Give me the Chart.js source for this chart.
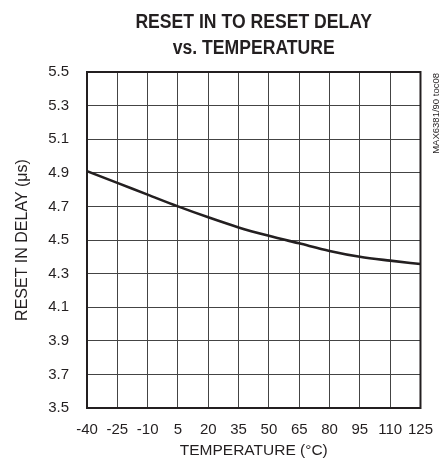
<!DOCTYPE html>
<html>
<head>
<meta charset="utf-8">
<script src="https://cdn.jsdelivr.net/npm/chart.js@4"></script>
<style>
  html, body { margin: 0; padding: 0; background: #fff; }
  #wrap { width: 446px; height: 470px; position: relative; }
</style>
</head>
<body>
<div id="wrap"><canvas id="delayChart"></canvas></div>
<script>
// --- Data ---
var temperatures = [-40, -25, -10, 5, 20, 35, 50, 65, 80, 95, 110, 125];
var resetDelay = [4.91, 4.84, 4.77, 4.70, 4.635, 4.575, 4.525, 4.48, 4.435, 4.40, 4.377, 4.357];
var titleLines = ['RESET IN TO RESET DELAY', 'vs. TEMPERATURE'];
var xTitle = 'TEMPERATURE (°C)';
var yTitle = 'RESET IN DELAY (μs)';
var sideNote = 'MAX6381/90 toc08';

var baseFont = '"Liberation Sans", Arial, sans-serif';
var inkColor = '#231f20';

// draws the two-line title, the frame round the plot and the note on the right
var framePlugin = {
    id: 'frameAndTitle',
    afterDraw: function (chart) {
        var ctx = chart.ctx;
        var area = chart.chartArea;
        var cx = (area.left + area.right) / 2;
        ctx.save();
        ctx.fillStyle = inkColor;
        ctx.textAlign = 'center';
        ctx.textBaseline = 'alphabetic';
        ctx.font = 'bold 20px ' + baseFont;
        // the original title face is a condensed one, squeeze it a bit
        ctx.save();
        ctx.translate(cx, 0);
        ctx.scale(0.88, 1);
        ctx.fillText(titleLines[0], 0, 28);
        ctx.fillText(titleLines[1], 0, 54);
        ctx.restore();

        ctx.strokeStyle = inkColor;
        ctx.lineWidth = 2;
        ctx.strokeRect(area.left, area.top, area.right - area.left, area.bottom - area.top);

        ctx.translate(436, area.top + 1);
        ctx.rotate(-Math.PI / 2);
        ctx.font = '9.5px ' + baseFont;
        ctx.textAlign = 'right';
        ctx.textBaseline = 'middle';
        ctx.fillText(sideNote, 0, 0);
        ctx.restore();
    }
};

var ctxDelay = document.getElementById('delayChart');
new Chart(ctxDelay, {
    type: 'line',
    data: {
        labels: temperatures,
        datasets: [{
            label: yTitle,
            data: temperatures.map(function (t, i) { return { x: t, y: resetDelay[i] }; }),
            borderColor: inkColor,
            borderWidth: 2.6,
            pointRadius: 0,
            cubicInterpolationMode: 'monotone',
            fill: false
        }]
    },
    options: {
        responsive: true, maintainAspectRatio: false, animation: false,
        layout: { padding: { top: 72, right: 23, left: 0, bottom: 0 } },
        scales: {
            x: {
                type: 'linear', min: -40, max: 125,
                afterFit: function (scale) { scale.height = 62; },
                border: { display: false },
                grid: { color: '#444', lineWidth: 1, drawTicks: false },
                ticks: { stepSize: 15, padding: 13, color: inkColor, font: { family: baseFont, size: 15 }, maxRotation: 0, autoSkip: false },
                title: { display: true, text: xTitle, color: inkColor, font: { family: baseFont, size: 15.5 }, padding: { top: 0, bottom: 10 } }
            },
            y: {
                min: 3.5, max: 5.5,
                afterFit: function (scale) { scale.width = 87; },
                border: { display: false },
                grid: { color: '#444', lineWidth: 1, drawTicks: false },
                ticks: {
                    stepSize: 0.2, padding: 18, color: inkColor, font: { family: baseFont, size: 15 },
                    callback: function (v) { return v.toFixed(1); }
                },
                title: { display: true, text: yTitle, color: inkColor, font: { family: baseFont, size: 16 }, padding: { top: 13, bottom: 0 } }
            }
        },
        plugins: {
            legend: { display: false },
            title: { display: false },
            tooltip: { enabled: false }
        }
    },
    plugins: [framePlugin]
});
</script>
</body>
</html>
